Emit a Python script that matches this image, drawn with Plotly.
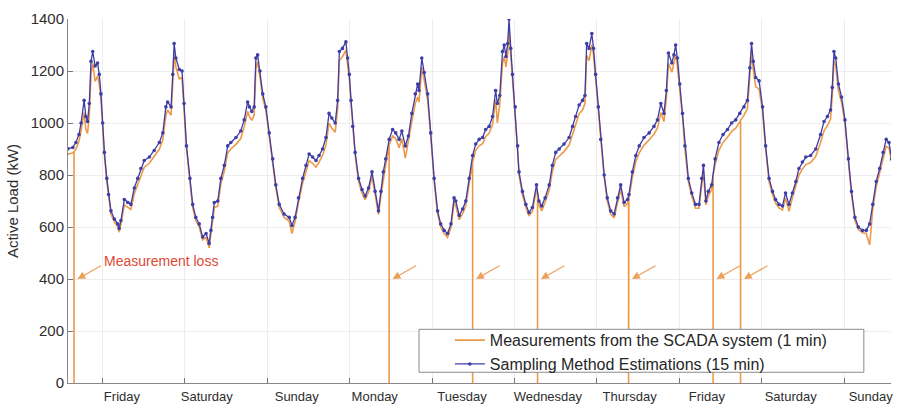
import plotly.graph_objects as go

# Hours from Friday 00:00 (first Friday of the period)
hours = [
    -10.0, -8.6, -7.7, -6.8, -6.2, -5.3, -4.8, -4.3, -3.8, -3.3, -2.8, -2.1, -1.4, -0.9, -0.4,
    0.1, 0.6, 1.3, 1.8, 2.5, 3.5, 4.5, 4.9, 5.4, 6.4, 7.4, 8.3, 9.3, 10.3, 11.2, 12.2, 13.7,
    15.1, 16.6, 17.6, 18.5, 19.0, 20.0, 20.5, 20.9, 21.4, 22.4, 23.2, 23.8,
    24.5, 25.5, 26.3, 27.2, 28.2, 29.2, 30.2, 31.1, 31.6, 32.1, 32.6, 33.6, 34.5, 35.5, 36.5,
    37.4, 38.9, 40.3, 41.3, 42.3, 42.8, 43.5, 44.2, 44.7, 45.2, 45.9, 46.7, 47.6,
    48.6, 49.6, 50.5, 51.5, 52.9, 54.4, 55.2, 56.1, 57.1, 58.3, 59.3, 60.2, 61.2, 62.2, 63.1,
    64.1, 65.1, 66.0, 66.8, 67.8, 68.5, 69.0, 69.9, 70.9, 71.4, 71.9,
    72.4, 72.9, 73.6, 74.6, 75.6, 76.5, 77.5, 78.5, 79.4, 80.4, 81.1, 81.8, 82.5, 83.5, 84.5,
    85.4, 86.4, 87.2, 88.2, 89.1, 90.1, 91.1, 91.8, 92.2, 93.0, 93.7, 94.7, 95.6,
    96.6, 97.6, 98.5, 99.5, 100.5, 101.5, 102.4, 102.9, 103.9, 104.9, 105.8, 106.8, 107.8,
    108.7, 109.7, 110.7, 111.6, 112.6, 113.6, 114.5, 115.0, 115.7, 116.5, 117.0, 117.5, 118.0,
    118.4, 118.9, 119.4,
    120.2, 120.9, 121.3, 122.3, 123.3, 124.2, 125.2, 126.4, 127.1, 127.9, 128.9, 130.1, 131.0,
    132.0, 133.0, 134.4, 135.9, 136.9, 137.8, 138.8, 139.8, 140.5, 141.0, 141.7, 142.5, 143.0,
    143.6,
    144.4, 145.1, 146.1, 147.0, 148.0, 149.0, 150.0, 150.9, 151.9, 152.9, 153.3, 154.3, 155.3,
    156.3, 157.7, 159.2, 160.6, 161.6, 162.6, 163.5, 164.2, 164.8, 165.8, 166.4, 166.9, 167.4,
    168.1, 168.9, 169.6, 170.6, 171.6, 172.7, 173.7, 174.5, 175.0, 175.7, 176.4, 177.4, 178.4,
    179.5, 180.7, 182.0, 183.2, 184.4, 185.6, 186.8, 187.8, 188.5, 189.0, 189.5, 190.2, 191.2,
    192.2, 193.1, 194.1, 195.1, 196.0, 197.0, 198.0, 198.9, 199.9, 200.9, 201.9, 202.8, 203.8,
    204.8, 206.2, 207.7, 209.1, 210.1, 211.1, 212.0, 212.5, 213.0, 213.5, 214.3, 215.2,
    216.2, 217.2, 218.1, 219.1, 220.1, 221.3, 222.4, 223.4, 224.3, 225.3, 226.3, 227.3, 228.2,
    229.0, 229.8,
]

# 15-minute estimations (kW)
estimated_kw = [
    901, 906, 925, 956, 1000, 1087, 1025, 1006, 1075, 1237, 1275, 1219, 1231, 1187, 1112,
    1000, 887, 787, 725, 662, 631, 612, 594, 625, 706, 694, 687, 750, 787, 825, 856, 869,
    894, 925, 962, 1062, 1081, 1062, 1187, 1306, 1250, 1206, 1200, 1075,
    912, 787, 687, 637, 612, 562, 575, 537, 587, 637, 694, 700, 787, 837, 912,
    925, 944, 969, 1012, 1081, 1062, 1044, 1062, 1250, 1262, 1200, 1112, 1062,
    962, 862, 762, 687, 650, 637, 606, 637, 712, 787, 837, 881, 869, 856, 875,
    900, 944, 1037, 1019, 1000, 1087, 1275, 1287, 1312, 1250, 1187,
    1087, 987, 887, 787, 744, 719, 750, 812, 737, 662, 737, 812, 862, 937, 975,
    962, 937, 969, 912, 950, 1037, 1112, 1150, 1125, 1250, 1194, 1112, 962,
    787, 662, 612, 587, 575, 612, 712, 700, 644, 669, 700, 787, 875,
    919, 937, 944, 975, 987, 1025, 1125, 1075, 1106, 1275, 1300, 1256, 1306,
    1400, 1287, 1187,
    1062, 912, 812, 737, 687, 656, 675, 762, 700, 681, 712, 762, 837,
    887, 900, 919, 944, 987, 1025, 1069, 1087, 1106, 1306, 1287, 1344, 1287,
    1187,
    1062, 937, 800, 712, 662, 650, 712, 762, 694, 706, 725, 812, 875,
    912, 944, 962, 987, 1012, 1075, 1037, 1125, 1269, 1231, 1262, 1300, 1250,
    1150, 1037, 912, 787, 731, 687, 687, 787, 837, 700, 737, 762, 862,
    925, 956, 975, 1000, 1012, 1037, 1062, 1087, 1212, 1306, 1237, 1175, 1162,
    1062, 912, 787, 737, 706, 687, 681, 731, 687, 731, 775, 825, 850,
    869, 875, 900, 956, 1006, 1025, 1050, 1137, 1275, 1250, 1150, 1100,
    1012, 862, 737, 637, 600, 587, 587, 612, 687, 775, 825, 887, 937,
    925, 862,
]

# 1-minute SCADA measurements (kW), same instants
scada_kw = [
    880, 885, 900, 930, 970, 1040, 975, 960, 1030, 1190, 1230, 1160, 1180, 1150, 1090,
    985, 875, 775, 712, 650, 620, 600, 580, 610, 685, 675, 668, 728, 765, 800, 830, 845,
    870, 900, 935, 1030, 1050, 1030, 1150, 1265, 1215, 1170, 1175, 1060,
    900, 775, 675, 625, 600, 550, 560, 520, 570, 620, 675, 680, 765, 815, 885,
    900, 918, 940, 985, 1045, 1025, 1010, 1030, 1210, 1235, 1175, 1095, 1050,
    950, 850, 750, 675, 638, 622, 575, 620, 695, 768, 815, 855, 845, 830, 850,
    875, 915, 1000, 980, 965, 1055, 1240, 1255, 1280, 1225, 1170,
    1075, 975, 875, 775, 730, 705, 735, 795, 720, 648, 720, 790, 840, 915, 950,
    940, 905, 940, 865, 925, 1005, 1075, 1100, 1080, 1215, 1165, 1090, 950,
    775, 650, 600, 575, 560, 598, 695, 682, 628, 652, 682, 768, 850,
    895, 912, 920, 948, 960, 995, 1090, 1000, 1075, 1230, 1255, 1215, 1265,
    1355, 1260, 1170,
    1050, 900, 800, 725, 675, 642, 660, 745, 685, 662, 695, 742, 812,
    860, 872, 890, 915, 955, 995, 1035, 1050, 1075, 1260, 1240, 1300, 1260,
    1170,
    1050, 925, 790, 700, 650, 635, 695, 745, 678, 690, 708, 790, 850,
    885, 915, 935, 958, 980, 1040, 1005, 1095, 1230, 1195, 1230, 1265, 1220,
    1130, 1025, 900, 775, 718, 672, 672, 770, 815, 685, 718, 745, 840,
    895, 925, 945, 968, 980, 1005, 1030, 1055, 1180, 1270, 1205, 1140, 1130,
    1045, 900, 775, 725, 692, 673, 665, 712, 660, 712, 755, 800, 822,
    840, 848, 872, 925, 970, 990, 1015, 1105, 1240, 1220, 1125, 1080,
    1000, 850, 725, 625, 590, 578, 575, 531, 670, 755, 805, 865, 910,
    905, 850,
]

# Instants where the SCADA record drops out, with the load just before the gap
loss_hours = [-8.25, 83.5, 107.8, 126.7, 153.2, 177.8, 185.8]
loss_level_kw = [890, 915, 850, 730, 705, 800, 1010]

day_names = ["Friday", "Saturday", "Sunday", "Monday", "Tuesday",
             "Wednesday", "Thursday", "Friday", "Saturday", "Sunday"]
day_start_hours = [0, 24, 48, 72, 96, 120, 144, 168, 192, 216]
label_hours = [5.7, 30.4, 56.6, 79.3, 104.7, 129.7, 153.5, 176.0, 200.4, 223.7]

ORANGE = "#EC9A4A"
BLUE = "#3E3EA6"
FONT = "Liberation Sans, Arial, sans-serif"
X_RANGE = [-10, 229.6]

# Merge the SCADA samples with the dropouts (vertical falls to zero)
scada_t, scada_v = [], []
events = sorted(zip(loss_hours, loss_level_kw))
k = 0
for t, v in zip(hours, scada_kw):
    while k < len(events) and events[k][0] <= t:
        lt, lv = events[k]
        scada_t += [lt, lt, lt]
        scada_v += [lv, 0, lv]
        k += 1
    scada_t.append(t)
    scada_v.append(v)

fig = go.Figure()
fig.add_trace(go.Scatter(
    x=scada_t, y=scada_v, mode="lines",
    line=dict(color=ORANGE, width=1.6),
    name="Measurements from the SCADA system (1 min)",
))
# Estimations live on the overlaid axis that carries the day names
fig.add_trace(go.Scatter(
    x=hours, y=estimated_kw, mode="lines+markers", xaxis="x2",
    line=dict(color=BLUE, width=1.3),
    marker=dict(color=BLUE, size=3.6),
    name="Sampling Method Estimations (15 min)",
))

# Arrows pointing at each dropout
for t in loss_hours:
    fig.add_annotation(
        x=t + 1.0, y=400, xref="x", yref="y", text="",
        showarrow=True, ax=25, ay=-14,
        arrowhead=2, arrowsize=1.3, arrowwidth=1.2,
        arrowcolor="rgba(234,145,60,0.85)",
    )
fig.add_annotation(
    x=17.1, y=469, xref="x", yref="y", text="Measurement loss",
    showarrow=False, font=dict(family=FONT, size=14, color="#DE4A33"),
)

# Legend frame
fig.add_shape(
    type="rect", xref="paper", yref="paper",
    x0=0.4265, x1=0.967, y0=0.0295, y1=0.1475,
    line=dict(color="#8A8A8A", width=1), fillcolor="white", layer="above",
)

axis_font = dict(family=FONT, size=15, color="#2E2E2E")
fig.update_layout(
    width=901, height=409,
    margin=dict(l=68, r=10, t=10, b=26),
    paper_bgcolor="white", plot_bgcolor="white",
    font=dict(family=FONT, color="#333333"),
    showlegend=True,
    legend=dict(
        x=0.464, y=0.0845, xanchor="left", yanchor="middle",
        bgcolor="rgba(0,0,0,0)", borderwidth=0,
        font=dict(family=FONT, size=16, color="#262626"),
        tracegroupgap=0, itemwidth=30,
    ),
    xaxis=dict(
        range=X_RANGE, tickvals=day_start_hours, showticklabels=False,
        ticks="inside", ticklen=5, tickcolor="#777777",
        showline=True, linecolor="#888888", linewidth=1,
        showgrid=True, gridcolor="#EDEDED", zeroline=False, automargin=False,
    ),
    xaxis2=dict(
        range=X_RANGE, overlaying="x", anchor="y", side="bottom", matches="x",
        tickvals=label_hours, ticktext=day_names, ticks="", ticklabelstandoff=4,
        showline=False, showgrid=False, zeroline=False, automargin=False,
        tickfont=dict(family=FONT, size=13, color="#2E2E2E"),
    ),
    yaxis=dict(
        range=[0, 1400], dtick=200, ticks="inside", ticklen=5, tickcolor="#777777",
        showline=True, linecolor="#888888", linewidth=1,
        showgrid=True, gridcolor="#EDEDED", zeroline=False,
        tickfont=axis_font,
        title=dict(text="Active Load (kW)", font=dict(family=FONT, size=15, color="#2E2E2E"),
                   standoff=8),
    ),
)

fig.write_html("out.html")
